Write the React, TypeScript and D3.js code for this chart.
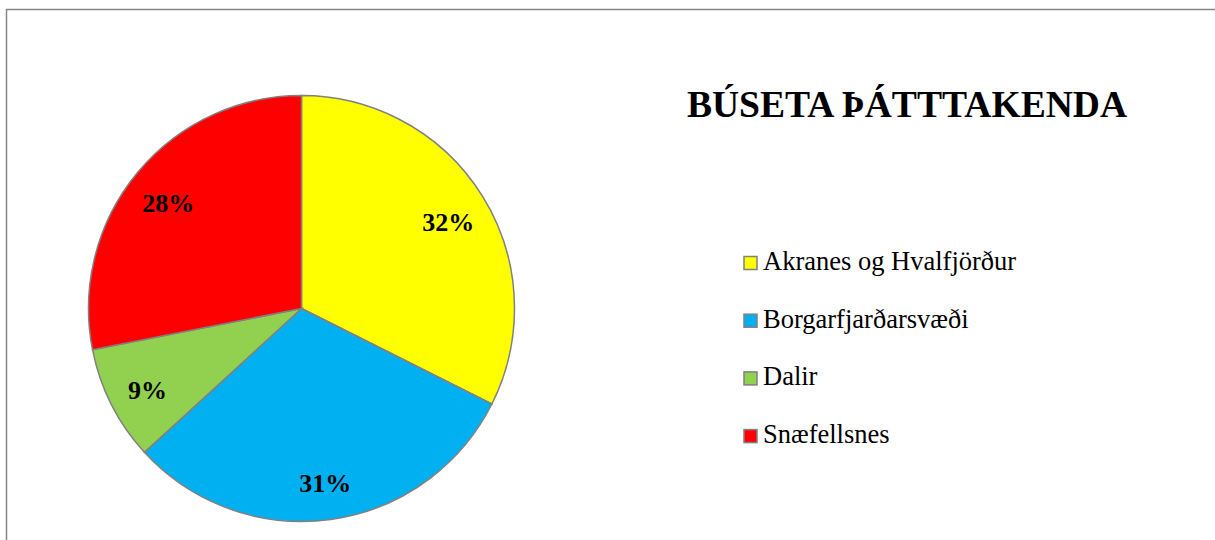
import React, { useEffect, useRef } from "react";
import * as d3 from "d3";

const categories = ["Akranes og Hvalfjörður", "Borgarfjarðarsvæði", "Dalir", "Snæfellsnes"];
const shares = [32.4, 30.8, 8.7, 28.1];
const colors = ["#FFFF00", "#00B0F0", "#92D050", "#FF0000"];
const title = "BÚSETA ÞÁTTTAKENDA";

const App = () => {
  const svgRef = useRef<SVGSVGElement>(null);

  useEffect(() => {
    const svg = d3.select(svgRef.current);
    svg.selectAll("*").remove();

    const width = 1215;
    const height = 540;
    const cx = 301.5;
    const cy = 308.5;
    const radius = 213;
    const serif = "'Liberation Serif', 'Times New Roman', serif";

    // chart frame (right and bottom edges fall outside the view)
    svg
      .append("rect")
      .attr("x", 6.5)
      .attr("y", 9.5)
      .attr("width", width)
      .attr("height", height)
      .attr("fill", "none")
      .attr("stroke", "#868686")
      .attr("stroke-width", 1.5);

    const total = d3.sum(shares);
    const pie = d3
      .pie<number>()
      .sort(null)
      .value((d) => d);
    const arcs = pie(shares);

    const arc = d3.arc<d3.PieArcDatum<number>>().innerRadius(0).outerRadius(radius);
    const labelArc = d3
      .arc<d3.PieArcDatum<number>>()
      .innerRadius(radius * 0.81)
      .outerRadius(radius * 0.81);

    const g = svg.append("g").attr("transform", `translate(${cx},${cy})`);

    g.selectAll("path")
      .data(arcs)
      .join("path")
      .attr("d", arc)
      .attr("fill", (d, i) => colors[i])
      .attr("stroke", "#808080")
      .attr("stroke-width", 1.5);

    g.selectAll("text")
      .data(arcs)
      .join("text")
      .attr("transform", (d) => {
        const [x, y] = labelArc.centroid(d);
        return `translate(${x},${y + 4})`;
      })
      .attr("text-anchor", "middle")
      .attr("dy", "0.35em")
      .style("font-family", serif)
      .style("font-weight", "bold")
      .style("font-size", "26px")
      .text((d) => `${Math.round((d.data / total) * 100)}%`);

    // title
    svg
      .append("text")
      .attr("x", 907)
      .attr("y", 117)
      .attr("text-anchor", "middle")
      .style("font-family", serif)
      .style("font-weight", "bold")
      .style("font-size", "37.6px")
      .text(title);

    // legend
    const legend = svg
      .selectAll("g.legend")
      .data(categories)
      .join("g")
      .attr("class", "legend")
      .attr("transform", (d, i) => `translate(744, ${270 + i * 57.7})`);

    legend
      .append("rect")
      .attr("x", 0)
      .attr("y", -13.5)
      .attr("width", 13)
      .attr("height", 13)
      .attr("fill", (d, i) => colors[i])
      .attr("stroke", "#808080")
      .attr("stroke-width", 1.5);

    legend
      .append("text")
      .attr("x", 19)
      .attr("y", 0)
      .style("font-family", serif)
      .style("font-size", "26.5px")
      .text((d) => d);
  }, []);

  return (
    <svg
      ref={svgRef}
      width={1215}
      height={540}
      style={{ position: "absolute", left: 0, top: 0, background: "#fff" }}
    ></svg>
  );
};

export default App;
